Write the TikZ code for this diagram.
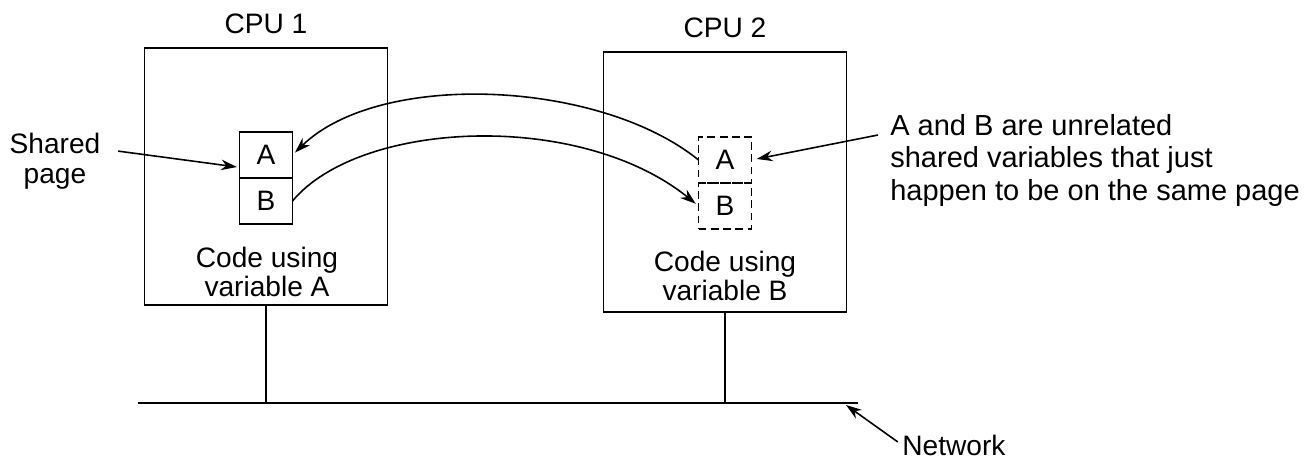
\documentclass[tikz,border=0pt]{standalone}
\usepackage{fontspec}
\setmainfont{Liberation Sans}
\usetikzlibrary{positioning,arrows.meta}

\begin{document}
\begin{tikzpicture}[x=0.02cm,y=-0.02cm,
    font=\fontsize{16}{17}\selectfont,
    cpubox/.style={draw,line width=1pt,minimum width=4.86cm,
      minimum height=5.14cm,inner sep=0pt},
    cell/.style={draw,line width=1pt,minimum width=1.06cm,
      minimum height=0.92cm,inner sep=0pt,outer sep=0pt},
    dcell/.style={cell,line width=0.9pt,dash pattern=on 4.5pt off 2.5pt},
    lbl/.style={inner sep=0pt,align=center},
    ptr/.style={line width=0.9pt,-{Stealth[length=9pt,width=6pt]}},
    wire/.style={line width=1pt}]
  \useasboundingbox (0,0) rectangle (1314,460);

  % the two machines
  \node[cpubox] (cpu1) at (266,176.5) {};
  \node[cpubox,minimum height=5.2cm] (cpu2) at (725,182) {};
  \node[lbl,anchor=base] (cpu1lbl) at ([yshift=0.27cm]cpu1.north) {CPU 1};
  \node[lbl,anchor=base] (cpu2lbl) at ([yshift=0.28cm]cpu2.north) {CPU 2};

  % the page on each side
  \node[cell] (pA) at (266,155) {A};
  \node[cell,below=0pt of pA] (pB) {B};
  \node[dcell] (qA) at (725,160) {A};
  \node[dcell,below=0pt of qA] (qB) {B};

  \node[lbl,font=\fontsize{16}{16.5}\selectfont] (code1) at (267,272)
    {Code using\\variable A};
  \node[lbl,font=\fontsize{16}{16.5}\selectfont] (code2) at (725,276)
    {Code using\\variable B};

  % labels outside
  \node[lbl] (shared) at (55,161) {Shared\\page};
  \node[lbl,anchor=north west,align=left,
        font=\fontsize{16.5}{18.5}\selectfont] (note) at (890,114)
    {A and B are unrelated\\shared variables that just\\happen to be on the same page};
  \node[lbl,anchor=base west] (net) at (902,455) {Network};

  % network
  \coordinate (netL) at (138,403);
  \coordinate (netR) at (858,403);
  \coordinate (nettip) at (846,405);
  \coordinate (notetail) at (878,135);
  \draw[wire] (netL) -- (netR);
  \draw[wire] (cpu1.south) -- (cpu1.south |- netL);
  \draw[wire] (cpu2.south) -- (cpu2.south |- netL);

  % arrows
  \draw[ptr,shorten <=10pt,shorten >=1.5pt] (shared.15) -- (pA.205);
  \draw[ptr,shorten >=2pt] (qA.west) .. controls (600,80) and (380,70) .. (pA.east);
  \draw[ptr,shorten >=2pt] (pB.east) .. controls (360,120) and (580,110) .. (qB.west);
  \draw[ptr,shorten >=3pt] (notetail) -- (qA.east);
  \draw[ptr,shorten <=3pt] (net.west) -- (nettip);
\end{tikzpicture}
\end{document}
